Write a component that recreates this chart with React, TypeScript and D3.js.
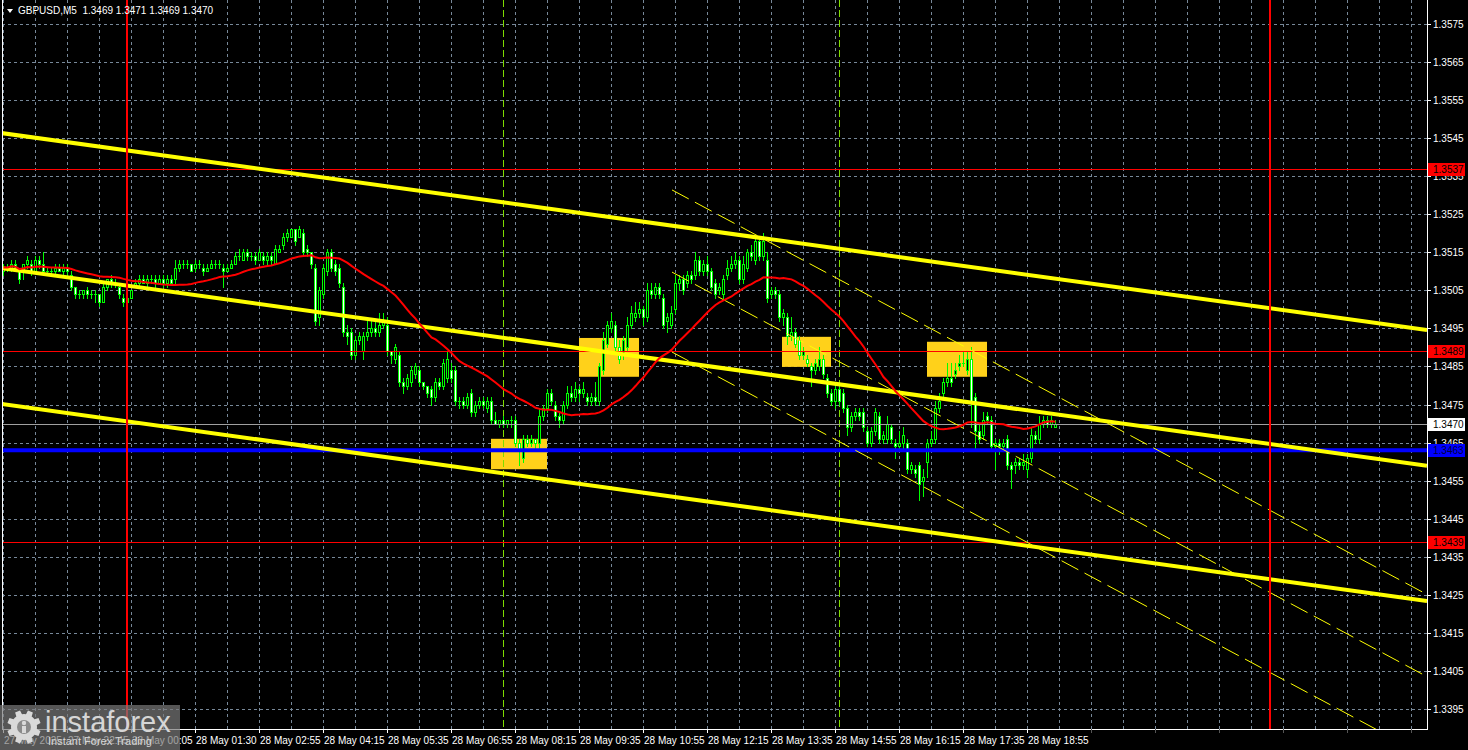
import React from "react";
import * as d3 from "d3";

// GBPUSD M5 bars: [open, high, low, close]
const candles: [number, number, number, number][] = [
  [1.3510, 1.3512, 1.3509, 1.3511], [1.3511, 1.3512, 1.3510, 1.3511], [1.3511, 1.3513, 1.3510, 1.3512], [1.3512, 1.3513, 1.3510, 1.3511],
  [1.3511, 1.3511, 1.3507, 1.3508], [1.3510, 1.3512, 1.3508, 1.3512], [1.3512, 1.3514, 1.3511, 1.3513], [1.3512, 1.3513, 1.3509, 1.3510],
  [1.3510, 1.3514, 1.3510, 1.3513], [1.3513, 1.3514, 1.3511, 1.3512], [1.3512, 1.3515, 1.3510, 1.3510], [1.3510, 1.3511, 1.3509, 1.3510],
  [1.3510, 1.3511, 1.3509, 1.3510], [1.3510, 1.3512, 1.3509, 1.3511], [1.3511, 1.3512, 1.3510, 1.3510], [1.3510, 1.3512, 1.3509, 1.3511],
  [1.3511, 1.3512, 1.3509, 1.3510], [1.3509, 1.3510, 1.3505, 1.3506], [1.3506, 1.3506, 1.3503, 1.3504], [1.3504, 1.3505, 1.3503, 1.3504],
  [1.3504, 1.3505, 1.3503, 1.3505], [1.3505, 1.3506, 1.3503, 1.3504], [1.3504, 1.3505, 1.3503, 1.3504], [1.3504, 1.3505, 1.3502, 1.3504],
  [1.3504, 1.3504, 1.3501, 1.3502], [1.3502, 1.3507, 1.3502, 1.3506], [1.3506, 1.3508, 1.3505, 1.3508], [1.3508, 1.3509, 1.3506, 1.3507],
  [1.3507, 1.3508, 1.3506, 1.3507], [1.3506, 1.3507, 1.3503, 1.3504], [1.3503, 1.3504, 1.3501, 1.3502], [1.3502, 1.3504, 1.3501, 1.3503],
  [1.3503, 1.3505, 1.3503, 1.3505], [1.3506, 1.3508, 1.3506, 1.3507], [1.3507, 1.3509, 1.3506, 1.3508], [1.3508, 1.3509, 1.3507, 1.3507],
  [1.3507, 1.3509, 1.3506, 1.3508], [1.3508, 1.3509, 1.3507, 1.3508], [1.3508, 1.3509, 1.3506, 1.3507], [1.3507, 1.3509, 1.3507, 1.3508],
  [1.3508, 1.3509, 1.3506, 1.3507], [1.3507, 1.3509, 1.3506, 1.3508], [1.3508, 1.3509, 1.3507, 1.3507], [1.3508, 1.3513, 1.3507, 1.3511],
  [1.3511, 1.3513, 1.3510, 1.3512], [1.3512, 1.3513, 1.3511, 1.3512], [1.3512, 1.3513, 1.3511, 1.3512], [1.3512, 1.3512, 1.3510, 1.3510],
  [1.3511, 1.3513, 1.3510, 1.3512], [1.3512, 1.3513, 1.3511, 1.3512], [1.3511, 1.3512, 1.3509, 1.3510], [1.3510, 1.3512, 1.3510, 1.3511],
  [1.3511, 1.3513, 1.3511, 1.3512], [1.3512, 1.3513, 1.3511, 1.3512], [1.3512, 1.3513, 1.3511, 1.3512], [1.3511, 1.3512, 1.3506, 1.3510],
  [1.3510, 1.3512, 1.3510, 1.3511], [1.3511, 1.3513, 1.3511, 1.3512], [1.3512, 1.3515, 1.3512, 1.3514], [1.3514, 1.3516, 1.3513, 1.3514],
  [1.3513, 1.3516, 1.3513, 1.3515], [1.3515, 1.3516, 1.3513, 1.3514], [1.3514, 1.3515, 1.3513, 1.3514], [1.3514, 1.3515, 1.3512, 1.3513],
  [1.3513, 1.3516, 1.3513, 1.3515], [1.3514, 1.3515, 1.3512, 1.3513], [1.3513, 1.3515, 1.3512, 1.3514], [1.3514, 1.3515, 1.3512, 1.3513],
  [1.3512, 1.3517, 1.3512, 1.3516], [1.3515, 1.3517, 1.3515, 1.3516], [1.3517, 1.3520, 1.3516, 1.3519], [1.3519, 1.3521, 1.3518, 1.3520],
  [1.3519, 1.3521, 1.3519, 1.3521], [1.3521, 1.3521, 1.3517, 1.3518], [1.3519, 1.3522, 1.3519, 1.3521], [1.3520, 1.3521, 1.3514, 1.3515],
  [1.3516, 1.3517, 1.3514, 1.3515], [1.3515, 1.3515, 1.3511, 1.3512], [1.3511, 1.3512, 1.3496, 1.3497], [1.3498, 1.3506, 1.3496, 1.3505],
  [1.3504, 1.3512, 1.3503, 1.3511], [1.3510, 1.3516, 1.3509, 1.3515], [1.3515, 1.3516, 1.3510, 1.3511], [1.3512, 1.3513, 1.3509, 1.3510],
  [1.3511, 1.3512, 1.3506, 1.3507], [1.3506, 1.3507, 1.3493, 1.3494], [1.3494, 1.3496, 1.3491, 1.3493], [1.3494, 1.3495, 1.3487, 1.3488],
  [1.3488, 1.3493, 1.3487, 1.3492], [1.3492, 1.3494, 1.3491, 1.3493], [1.3489, 1.3494, 1.3487, 1.3493], [1.3493, 1.3497, 1.3492, 1.3494],
  [1.3494, 1.3497, 1.3493, 1.3495], [1.3495, 1.3497, 1.3493, 1.3494], [1.3494, 1.3499, 1.3493, 1.3496], [1.3496, 1.3499, 1.3495, 1.3497],
  [1.3496, 1.3498, 1.3488, 1.3489], [1.3489, 1.3489, 1.3486, 1.3488], [1.3487, 1.3491, 1.3486, 1.3490], [1.3488, 1.3489, 1.3480, 1.3481],
  [1.3481, 1.3482, 1.3478, 1.3480], [1.3480, 1.3483, 1.3479, 1.3482], [1.3481, 1.3485, 1.3480, 1.3484], [1.3483, 1.3486, 1.3482, 1.3485],
  [1.3484, 1.3485, 1.3480, 1.3481], [1.3481, 1.3481, 1.3479, 1.3480], [1.3480, 1.3480, 1.3477, 1.3478], [1.3479, 1.3480, 1.3475, 1.3477],
  [1.3477, 1.3482, 1.3476, 1.3481], [1.3481, 1.3482, 1.3479, 1.3480], [1.3480, 1.3487, 1.3479, 1.3486], [1.3482, 1.3489, 1.3481, 1.3487],
  [1.3484, 1.3486, 1.3481, 1.3482], [1.3484, 1.3485, 1.3475, 1.3476], [1.3476, 1.3477, 1.3474, 1.3476], [1.3476, 1.3477, 1.3474, 1.3475],
  [1.3475, 1.3478, 1.3474, 1.3477], [1.3478, 1.3479, 1.3472, 1.3473], [1.3473, 1.3476, 1.3472, 1.3475], [1.3475, 1.3477, 1.3474, 1.3476],
  [1.3476, 1.3477, 1.3474, 1.3475], [1.3474, 1.3477, 1.3473, 1.3476], [1.3476, 1.3477, 1.3470, 1.3471], [1.3471, 1.3473, 1.3470, 1.3470],
  [1.3470, 1.3471, 1.3469, 1.3471], [1.3471, 1.3472, 1.3469, 1.3470], [1.3470, 1.3471, 1.3469, 1.3471], [1.3471, 1.3472, 1.3469, 1.3471],
  [1.3471, 1.3472, 1.3464, 1.3465], [1.3465, 1.3466, 1.3459, 1.3463], [1.3461, 1.3467, 1.3460, 1.3466], [1.3466, 1.3467, 1.3464, 1.3465],
  [1.3465, 1.3467, 1.3464, 1.3466], [1.3466, 1.3466, 1.3463, 1.3465], [1.3465, 1.3474, 1.3463, 1.3472], [1.3472, 1.3475, 1.3471, 1.3474],
  [1.3474, 1.3479, 1.3473, 1.3478], [1.3478, 1.3479, 1.3475, 1.3476], [1.3475, 1.3476, 1.3471, 1.3472], [1.3472, 1.3473, 1.3469, 1.3471],
  [1.3471, 1.3476, 1.3470, 1.3475], [1.3475, 1.3480, 1.3474, 1.3478], [1.3478, 1.3480, 1.3476, 1.3477], [1.3477, 1.3481, 1.3476, 1.3479],
  [1.3479, 1.3480, 1.3476, 1.3478], [1.3478, 1.3481, 1.3477, 1.3479], [1.3477, 1.3478, 1.3475, 1.3476], [1.3476, 1.3478, 1.3475, 1.3477],
  [1.3477, 1.3481, 1.3475, 1.3476], [1.3476, 1.3486, 1.3475, 1.3485], [1.3484, 1.3494, 1.3483, 1.3492], [1.3491, 1.3497, 1.3490, 1.3496],
  [1.3495, 1.3499, 1.3494, 1.3497], [1.3496, 1.3497, 1.3489, 1.3490], [1.3490, 1.3492, 1.3486, 1.3487], [1.3488, 1.3493, 1.3487, 1.3492],
  [1.3490, 1.3498, 1.3489, 1.3496], [1.3496, 1.3501, 1.3495, 1.3499], [1.3498, 1.3502, 1.3497, 1.3499], [1.3499, 1.3502, 1.3498, 1.3500],
  [1.3500, 1.3501, 1.3496, 1.3498], [1.3498, 1.3507, 1.3497, 1.3505], [1.3505, 1.3507, 1.3503, 1.3504], [1.3504, 1.3507, 1.3503, 1.3506],
  [1.3506, 1.3507, 1.3503, 1.3504], [1.3503, 1.3504, 1.3495, 1.3496], [1.3497, 1.3499, 1.3494, 1.3498], [1.3496, 1.3501, 1.3495, 1.3499],
  [1.3500, 1.3509, 1.3499, 1.3507], [1.3507, 1.3509, 1.3505, 1.3508], [1.3508, 1.3509, 1.3504, 1.3505], [1.3507, 1.3510, 1.3506, 1.3509],
  [1.3509, 1.3510, 1.3507, 1.3508], [1.3509, 1.3515, 1.3508, 1.3513], [1.3513, 1.3514, 1.3509, 1.3510], [1.3510, 1.3513, 1.3509, 1.3512],
  [1.3512, 1.3514, 1.3509, 1.3510], [1.3510, 1.3511, 1.3505, 1.3506], [1.3507, 1.3508, 1.3503, 1.3504], [1.3505, 1.3507, 1.3504, 1.3506],
  [1.3504, 1.3509, 1.3503, 1.3508], [1.3509, 1.3513, 1.3508, 1.3511], [1.3511, 1.3514, 1.3510, 1.3512], [1.3512, 1.3515, 1.3511, 1.3513],
  [1.3513, 1.3514, 1.3507, 1.3508], [1.3508, 1.3514, 1.3507, 1.3512], [1.3511, 1.3516, 1.3510, 1.3515], [1.3515, 1.3517, 1.3513, 1.3514],
  [1.3513, 1.3519, 1.3512, 1.3518], [1.3518, 1.3519, 1.3513, 1.3514], [1.3514, 1.3520, 1.3513, 1.3518], [1.3513, 1.3515, 1.3502, 1.3503],
  [1.3504, 1.3506, 1.3503, 1.3505], [1.3505, 1.3506, 1.3503, 1.3504], [1.3504, 1.3505, 1.3497, 1.3498], [1.3498, 1.3500, 1.3496, 1.3499],
  [1.3498, 1.3499, 1.3491, 1.3493], [1.3493, 1.3498, 1.3492, 1.3494], [1.3494, 1.3495, 1.3490, 1.3491], [1.3492, 1.3493, 1.3487, 1.3488],
  [1.3488, 1.3490, 1.3487, 1.3489], [1.3487, 1.3488, 1.3485, 1.3486], [1.3485, 1.3486, 1.3480, 1.3484], [1.3484, 1.3487, 1.3483, 1.3486],
  [1.3485, 1.3490, 1.3484, 1.3487], [1.3487, 1.3488, 1.3482, 1.3483], [1.3482, 1.3483, 1.3477, 1.3478], [1.3478, 1.3479, 1.3475, 1.3476],
  [1.3476, 1.3480, 1.3474, 1.3479], [1.3479, 1.3480, 1.3475, 1.3476], [1.3478, 1.3479, 1.3473, 1.3474], [1.3474, 1.3475, 1.3467, 1.3469],
  [1.3469, 1.3473, 1.3468, 1.3472], [1.3472, 1.3474, 1.3471, 1.3473], [1.3473, 1.3474, 1.3471, 1.3472], [1.3473, 1.3474, 1.3468, 1.3469],
  [1.3468, 1.3469, 1.3464, 1.3465], [1.3465, 1.3469, 1.3464, 1.3468], [1.3468, 1.3474, 1.3467, 1.3473], [1.3472, 1.3473, 1.3465, 1.3466],
  [1.3466, 1.3468, 1.3465, 1.3467], [1.3466, 1.3472, 1.3465, 1.3470], [1.3469, 1.3470, 1.3465, 1.3466], [1.3465, 1.3466, 1.3461, 1.3464],
  [1.3464, 1.3468, 1.3463, 1.3465], [1.3465, 1.3469, 1.3463, 1.3467], [1.3465, 1.3466, 1.3457, 1.3458], [1.3458, 1.3460, 1.3457, 1.3459],
  [1.3458, 1.3459, 1.3456, 1.3457], [1.3459, 1.3460, 1.3450, 1.3454], [1.3455, 1.3458, 1.3451, 1.3456], [1.3460, 1.3466, 1.3456, 1.3465],
  [1.3465, 1.3468, 1.3464, 1.3466], [1.3466, 1.3476, 1.3465, 1.3474], [1.3474, 1.3478, 1.3473, 1.3476], [1.3478, 1.3482, 1.3477, 1.3481],
  [1.3481, 1.3486, 1.3480, 1.3482], [1.3482, 1.3486, 1.3480, 1.3481], [1.3483, 1.3486, 1.3482, 1.3484], [1.3485, 1.3488, 1.3484, 1.3486],
  [1.3486, 1.3489, 1.3485, 1.3486], [1.3484, 1.3489, 1.3483, 1.3487], [1.3487, 1.3490, 1.3469, 1.3476], [1.3477, 1.3478, 1.3463, 1.3468],
  [1.3468, 1.3470, 1.3465, 1.3466], [1.3467, 1.3473, 1.3466, 1.3471], [1.3472, 1.3473, 1.3470, 1.3471], [1.3471, 1.3472, 1.3463, 1.3464],
  [1.3464, 1.3466, 1.3458, 1.3465], [1.3465, 1.3466, 1.3462, 1.3464], [1.3464, 1.3466, 1.3463, 1.3465], [1.3466, 1.3467, 1.3458, 1.3459],
  [1.3459, 1.3460, 1.3453, 1.3458], [1.3459, 1.3461, 1.3457, 1.3460], [1.3460, 1.3461, 1.3458, 1.3459], [1.3459, 1.3462, 1.3458, 1.3460],
  [1.3458, 1.3462, 1.3456, 1.3461], [1.3461, 1.3469, 1.3460, 1.3467], [1.3467, 1.3468, 1.3465, 1.3466], [1.3466, 1.3472, 1.3465, 1.3470],
  [1.3470, 1.3472, 1.3469, 1.3471], [1.3471, 1.3472, 1.3469, 1.3470], [1.3470, 1.3472, 1.3469, 1.3471], [1.3469, 1.3471, 1.3469, 1.3470],
];

const symbol = "GBPUSD,M5";
const priceTicks = [
  1.3575, 1.3565, 1.3555, 1.3545, 1.3535, 1.3525, 1.3515, 1.3505, 1.3495, 1.3485,
  1.3475, 1.3465, 1.3455, 1.3445, 1.3435, 1.3425, 1.3415, 1.3405, 1.3395,
];
const timeLabels = [
  "27 May 2025", "27 May 22:45", "28 May 00:05", "28 May 01:30", "28 May 02:55", "28 May 04:15",
  "28 May 05:35", "28 May 06:55", "28 May 08:15", "28 May 09:35", "28 May 10:55", "28 May 12:15",
  "28 May 13:35", "28 May 14:55", "28 May 16:15", "28 May 17:35", "28 May 18:55",
];
const resistanceLevels = [1.3537, 1.3489];
const lowerLevel = 1.3439;
const supportLevel = 1.3463;
const bidPrice = 1.347;
// red session markers and day separators, in bar units
const sessionMarks = [31, 316.75];
const daySeparators = [125, 209];
// trend channel (bar, price) -> (bar, price)
const trendLines: [number, number, number, number][] = [
  [-0.75, 1.35464, 356, 1.34946],
  [-0.75, 1.35109, 356, 1.34589],
  [-0.75, 1.34752, 356, 1.34234],
];
// short-term falling channel
const channelLines: [number, number, number, number][] = [
  [167.25, 1.35314, 356, 1.34251],
  [167.25, 1.35098, 356, 1.34035],
  [167.25, 1.34888, 356, 1.33825],
];
// signal zones: bar from, bar to, top price, bottom price
const signalBoxes: [number, number, number, number][] = [
  [122, 136, 1.3466, 1.3458],
  [144, 159, 1.34925, 1.34823],
  [194.75, 207, 1.34928, 1.34849],
  [231, 246, 1.34915, 1.34823],
];
const maPeriod = 30;

const W = 1468;
const H = 750;
const plotLeft = 2;
const plotRight = 1427;
const plotBottom = 729;
const FONT = "'Liberation Sans', Arial, sans-serif";
const GRID = "#778899";
const LIME = "#00ff00";

export default function App() {
  const x = d3.scaleLinear().domain([0, 356]).range([3, 1427]);
  const y = d3.scaleLinear().domain([1.3395, 1.3575]).range([709, 24]);

  const closes = candles.map((c) => c[3]);
  const ma = closes.map((_, i) => d3.mean(closes.slice(Math.max(0, i - maPeriod + 1), i + 1)) as number);
  const maPath = d3
    .line<number>()
    .x((_, i) => x(i) + 0.5)
    .y((d) => y(d))(ma) as string;

  const gridX = d3.range(0, 45).map((k) => x(k * 8));
  const timeTicks = d3.range(0, 23).map((k) => x(k * 16));
  const last = candles[candles.length - 1];
  const header = `${symbol}  ${last.map((v) => v.toFixed(4)).join(" ")}`;

  const crisp = (v: number) => Math.round(v) + 0.5;

  const levelLabel = (p: number, bg: string, fg: string, key: string) => (
    <g key={key}>
      <rect x={1428} y={Math.round(y(p)) - 6} width={37} height={13} fill={bg} />
      <text x={1433} y={Math.round(y(p)) + 4} fill={fg} fontSize={10} fontFamily={FONT}>
        {p.toFixed(4)}
      </text>
    </g>
  );

  // gear outline for the watermark
  const gearPath = (() => {
    const cx = 24, cy = 727, teeth = 8, rOut = 17, rIn = 13;
    const pts: [number, number][] = [];
    for (let t = 0; t < teeth; t++) {
      const a0 = (t / teeth) * Math.PI * 2;
      const step = (Math.PI * 2) / teeth;
      const angles = [a0, a0 + step * 0.2, a0 + step * 0.3, a0 + step * 0.7, a0 + step * 0.8];
      const radii = [rIn, rIn, rOut, rOut, rIn];
      angles.forEach((a, j) => pts.push([cx + Math.cos(a) * radii[j], cy + Math.sin(a) * radii[j]]));
    }
    return "M" + pts.map((p) => p.join(",")).join("L") + "Z";
  })();

  return (
    <svg
      width={W}
      height={H}
      style={{ position: "absolute", left: 0, top: 0, display: "block", background: "#000" }}
    >
      <defs>
        <clipPath id="plot">
          <rect x={plotLeft} y={0} width={plotRight - plotLeft} height={plotBottom} />
        </clipPath>
      </defs>
      <rect x={0} y={0} width={W} height={H} fill="#000" />

      <g clipPath="url(#plot)">
        {/* grid */}
        {priceTicks.map((p) => (
          <line key={"gh" + p} x1={plotLeft} x2={plotRight} y1={crisp(y(p))} y2={crisp(y(p))} stroke={GRID} strokeDasharray="3 3" />
        ))}
        {gridX.map((gx) => (
          <line key={"gv" + gx} x1={crisp(gx)} x2={crisp(gx)} y1={0} y2={plotBottom} stroke={GRID} strokeDasharray="3 3" />
        ))}

        {/* signal zones */}
        {signalBoxes.map(([b0, b1, p0, p1], i) => (
          <rect key={"box" + i} x={x(b0)} y={y(p0)} width={x(b1) - x(b0)} height={y(p1) - y(p0)} fill="#ffd11a" />
        ))}

        {/* day separators */}
        {daySeparators.map((b) => (
          <line key={"ds" + b} x1={crisp(x(b))} x2={crisp(x(b))} y1={0} y2={plotBottom} stroke="#7fdc00" strokeDasharray="7 3" />
        ))}

        {/* candles */}
        {candles.map(([o, h, l, c], i) => {
          const cx = Math.round(x(i));
          const top = Math.round(y(Math.max(o, c)));
          const bot = Math.round(y(Math.min(o, c)));
          const bull = c >= o;
          return (
            <g key={"c" + i}>
              <line x1={cx + 0.5} x2={cx + 0.5} y1={Math.round(y(h))} y2={Math.round(y(l)) + 1} stroke={LIME} />
              {bot - top < 1 ? (
                <line x1={cx - 1} x2={cx + 2} y1={top + 0.5} y2={top + 0.5} stroke={LIME} />
              ) : (
                <rect x={cx - 0.5} y={top + 0.5} width={2} height={bot - top} fill={bull ? "#000" : "#fff"} stroke={LIME} />
              )}
            </g>
          );
        })}

        {/* horizontal levels */}
        {resistanceLevels.map((p) => (
          <line key={"rl" + p} x1={plotLeft} x2={plotRight} y1={crisp(y(p))} y2={crisp(y(p))} stroke="#ff0000" />
        ))}
        <line x1={plotLeft} x2={plotRight} y1={crisp(y(lowerLevel))} y2={crisp(y(lowerLevel))} stroke="#ff0000" />
        <line x1={plotLeft} x2={plotRight} y1={crisp(y(bidPrice))} y2={crisp(y(bidPrice))} stroke="#a0a0a0" />
        <line x1={plotLeft} x2={plotRight} y1={y(supportLevel)} y2={y(supportLevel)} stroke="#0000ff" strokeWidth={4} />

        {/* trend channel */}
        {trendLines.map(([b0, p0, b1, p1], i) => (
          <line key={"tl" + i} x1={x(b0)} y1={y(p0)} x2={x(b1)} y2={y(p1)} stroke="#ffff00" strokeWidth={4} />
        ))}
        {channelLines.map(([b0, p0, b1, p1], i) => (
          <line key={"ch" + i} x1={x(b0)} y1={y(p0)} x2={x(b1)} y2={y(p1)} stroke="#ffff00" strokeWidth={1} strokeDasharray="19 7" />
        ))}

        {/* session markers */}
        {sessionMarks.map((b) => (
          <line key={"sm" + b} x1={Math.round(x(b))} x2={Math.round(x(b))} y1={0} y2={plotBottom} stroke="#ff0000" strokeWidth={2} />
        ))}

        {/* moving average */}
        <path d={maPath} fill="none" stroke="#ff0000" strokeWidth={2} />
      </g>

      {/* frame */}
      <line x1={plotLeft + 0.5} x2={plotLeft + 0.5} y1={0} y2={plotBottom} stroke="#fff" />
      <line x1={plotRight + 0.5} x2={plotRight + 0.5} y1={0} y2={plotBottom + 1} stroke="#fff" />
      <line x1={plotLeft} x2={plotRight + 1} y1={plotBottom + 0.5} y2={plotBottom + 0.5} stroke="#fff" />

      {/* price axis */}
      {priceTicks.map((p) => (
        <g key={"pt" + p}>
          <line x1={plotRight} x2={plotRight + 4} y1={crisp(y(p))} y2={crisp(y(p))} stroke="#fff" />
          <text x={1433} y={Math.round(y(p)) + 4} fill="#fff" fontSize={10} fontFamily={FONT}>
            {p.toFixed(4)}
          </text>
        </g>
      ))}
      {resistanceLevels.map((p) => levelLabel(p, "#ff0000", "#000", "rlab" + p))}
      {levelLabel(lowerLevel, "#ff0000", "#000", "llab")}
      {levelLabel(bidPrice, "#ffffff", "#000", "blab")}
      {levelLabel(supportLevel, "#0000ff", "#000040", "slab")}

      {/* time axis */}
      {timeTicks.map((tx, k) => (
        <g key={"tt" + k}>
          <line x1={crisp(tx)} x2={crisp(tx)} y1={plotBottom} y2={plotBottom + 4} stroke={k < timeLabels.length ? "#fff" : "#555"} />
          {k < timeLabels.length && (
            <text x={Math.round(tx) + 1} y={744} fill="#fff" fontSize={10} fontFamily={FONT}>
              {timeLabels[k]}
            </text>
          )}
        </g>
      ))}

      {/* header */}
      <path d="M7,9 L13,9 L10,13 Z" fill="#fff" />
      <text x={18} y={14} fill="#fff" fontSize={10} fontFamily={FONT} style={{ whiteSpace: "pre" }}>
        {header}
      </text>

      {/* watermark */}
      <g>
        <rect x={0} y={705} width={180} height={45} fill="#7a7a7a" fillOpacity={0.7} />
        <path d={gearPath} fill="#d9d9d9" />
        <circle cx={24} cy={727} r={7} fill="#8a8a8a" />
        <circle cx={24} cy={723} r={2.2} fill="#d9d9d9" />
        <rect x={22} y={726} width={4} height={7} fill="#d9d9d9" />
        <text x={45} y={732} fill="#d6d6d6" fontSize={29} fontFamily={FONT}>
          instaforex
        </text>
        <text x={48} y={745} fill="#d6d6d6" fontSize={11} fontFamily={FONT}>
          Instant Forex Trading
        </text>
      </g>
    </svg>
  );
}
